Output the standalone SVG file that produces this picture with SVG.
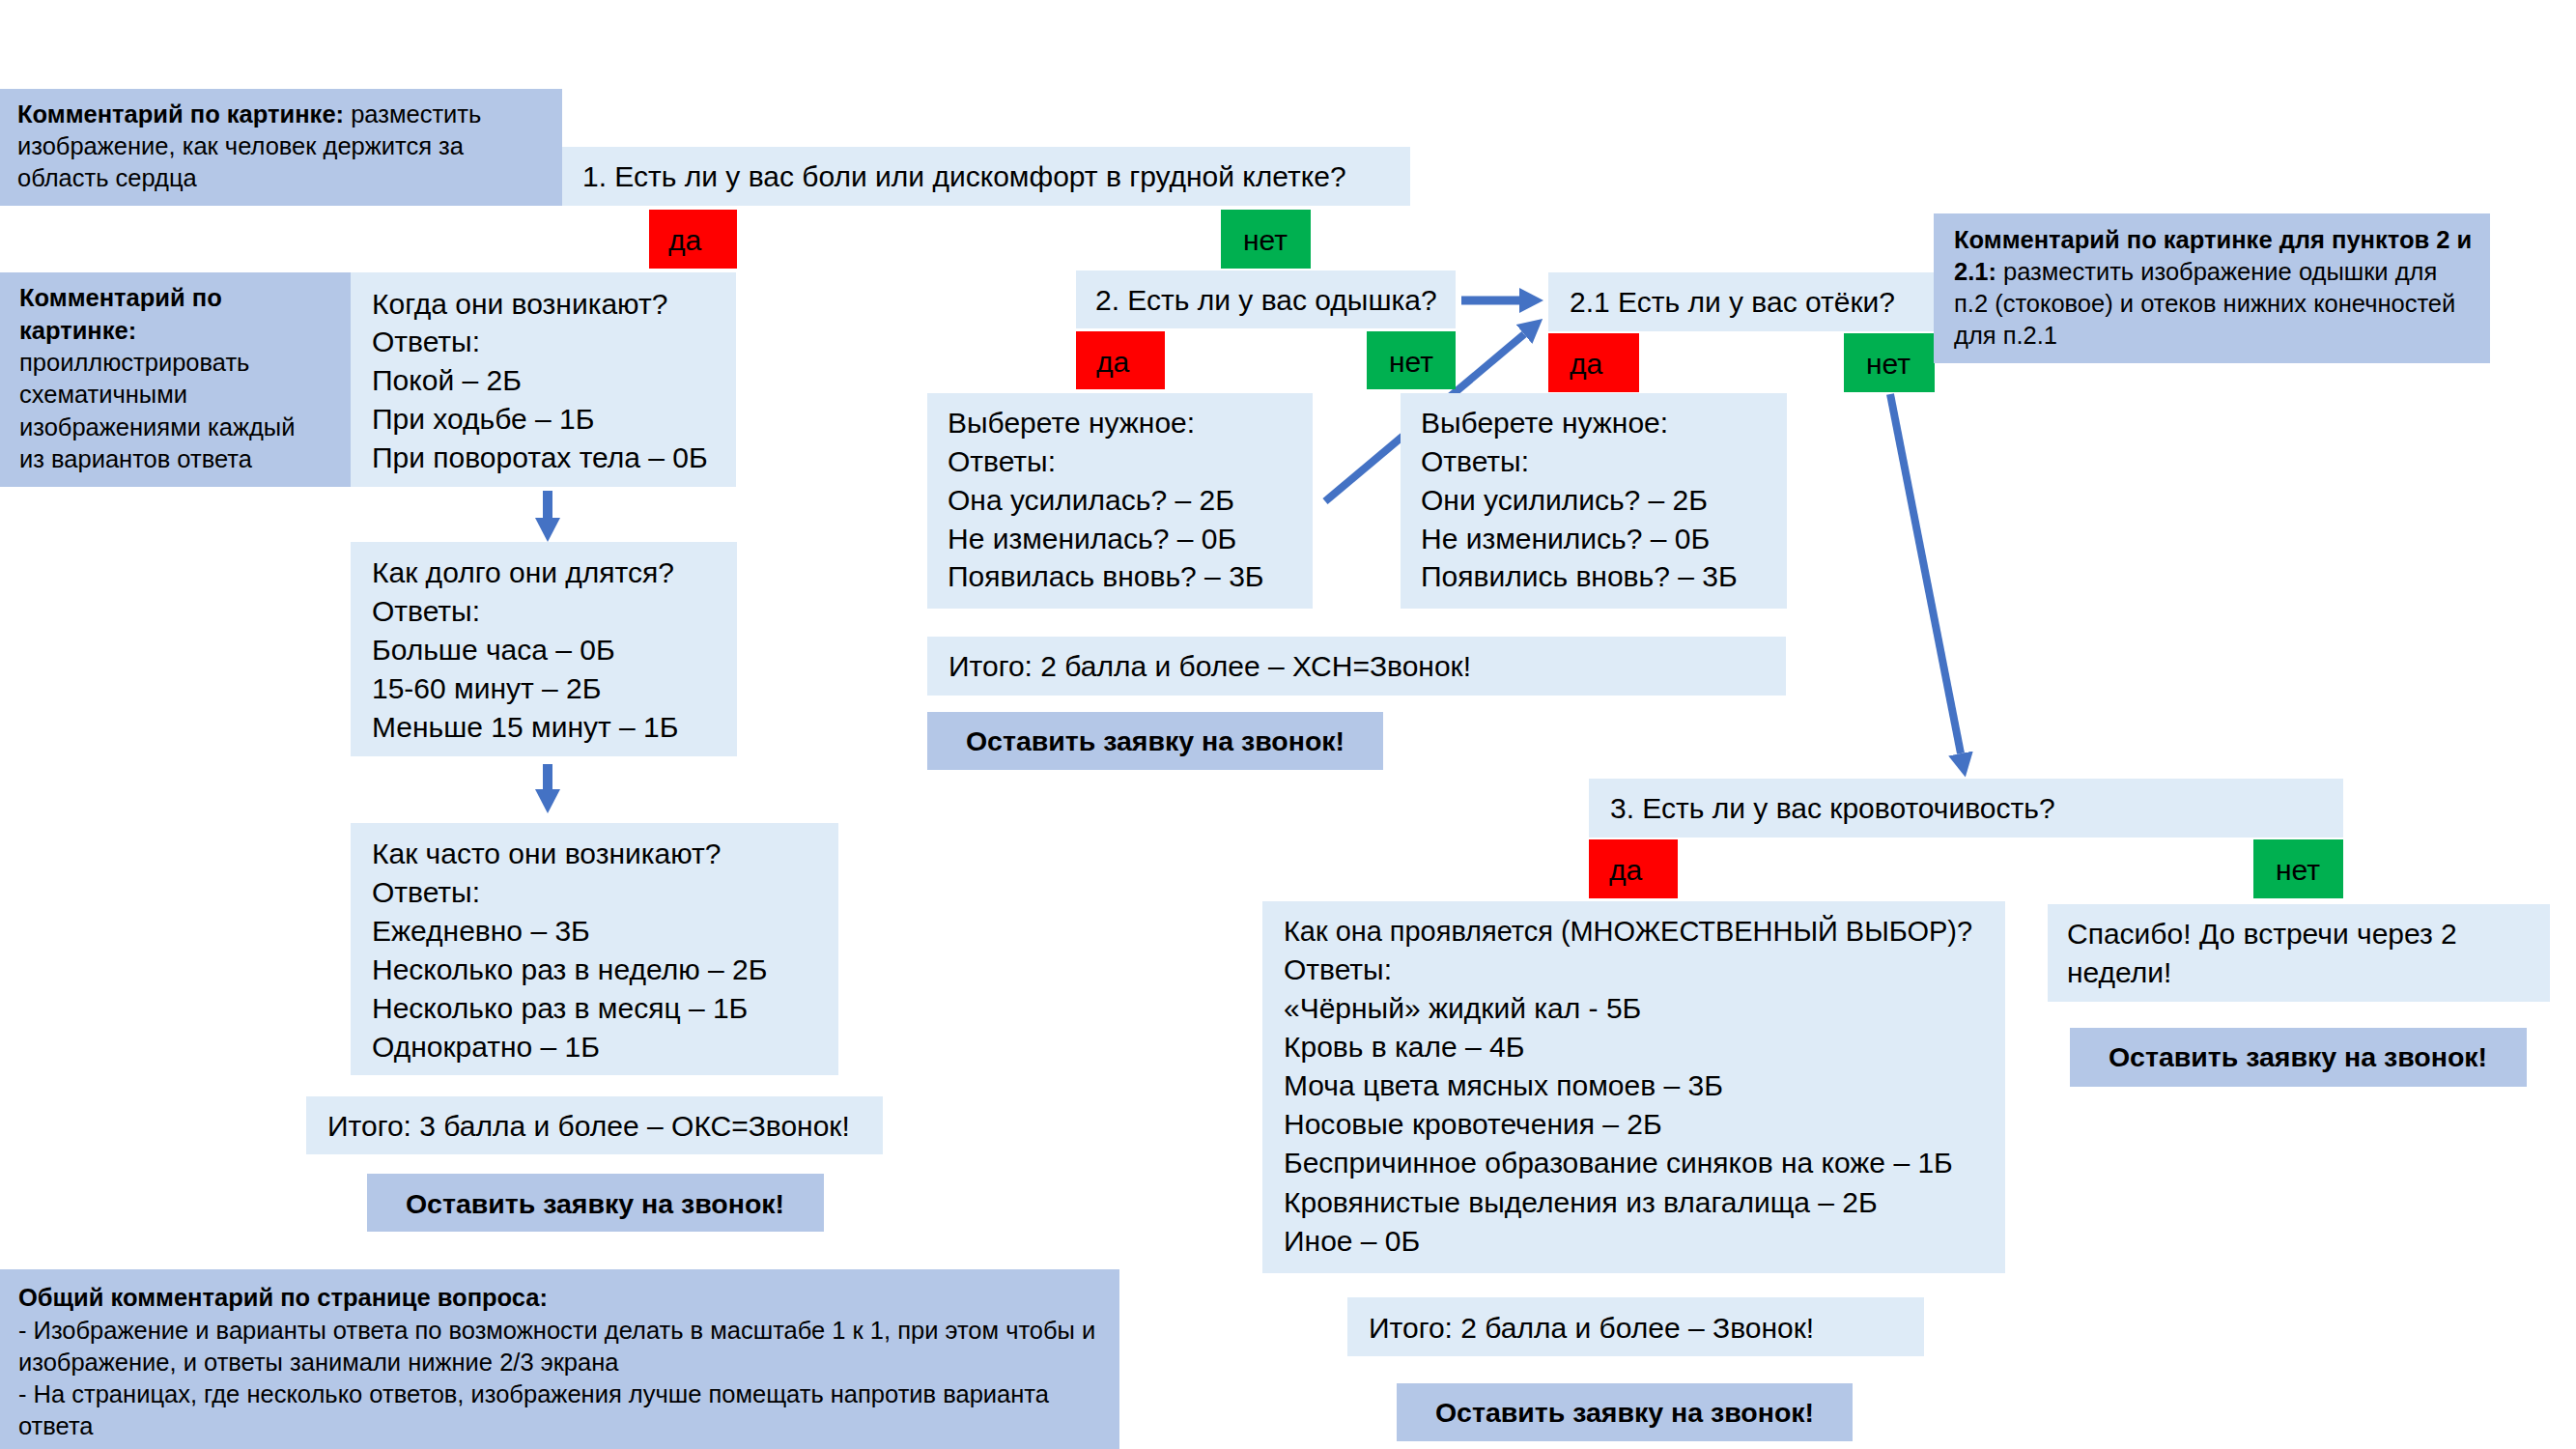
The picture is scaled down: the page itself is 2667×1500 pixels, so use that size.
<svg xmlns="http://www.w3.org/2000/svg" width="2667" height="1500" viewBox="0 0 2667 1500">
<style>
text{font-family:"Liberation Sans",Arial,sans-serif;fill:#000}
.lb{fill:#DEEBF7}
.cm{fill:#B4C7E7}
.red{fill:#FF0000}
.grn{fill:#00B050}
.t{font-size:30px}
.c{font-size:25.5px}
.b{font-weight:bold}
.btn{font-size:28.5px;font-weight:bold;text-anchor:middle}
.ar{stroke:#4472C4;fill:none}
</style>
<defs>
<marker id="ah" markerUnits="userSpaceOnUse" markerWidth="26" markerHeight="26" refX="0" refY="13" orient="auto"><path d="M0,0 L25,13 L0,26 Z" fill="#4472C4"/></marker>
</defs>
<rect width="2667" height="1500" fill="#FFFFFF"/>
<g id="connectors">
<line class="ar" x1="567" y1="508" x2="567" y2="536" stroke-width="10" marker-end="url(#ah)"/>
<line class="ar" x1="567" y1="791" x2="567" y2="817" stroke-width="10" marker-end="url(#ah)"/>
<line class="ar" x1="1513" y1="311" x2="1573" y2="311" stroke-width="9" marker-end="url(#ah)"/>
<line class="ar" x1="1372" y1="519" x2="1578" y2="346" stroke-width="8" marker-end="url(#ah)"/>
<line class="ar" x1="1957" y1="408" x2="2030" y2="780" stroke-width="8" marker-end="url(#ah)"/>
</g>
<g id="comment1">
<rect class="cm" x="0" y="92" width="582" height="121"/>
<text class="c" x="18" y="127"><tspan class="b">Комментарий по картинке:</tspan> разместить</text>
<text class="c" x="18" y="160">изображение, как человек держится за</text>
<text class="c" x="18" y="193">область сердца</text>
</g>
<g id="q1">
<rect class="lb" x="582" y="152" width="878" height="61"/>
<text class="t" x="603" y="193">1. Есть ли у вас боли или дискомфорт в грудной клетке?</text>
</g>
<g id="q1-yes">
<rect class="red" x="672" y="217" width="91" height="61"/>
<text class="t" x="692" y="259">да</text>
</g>
<g id="q1-no">
<rect class="grn" x="1264" y="217" width="93" height="61"/>
<text class="t" x="1310" y="259" text-anchor="middle">нет</text>
</g>
<g id="comment2">
<rect class="cm" x="0" y="282" width="363" height="222"/>
<text class="c b" x="20" y="317">Комментарий по</text>
<text class="c b" x="20" y="351">картинке:</text>
<text class="c" x="20" y="384">проиллюстрировать</text>
<text class="c" x="20" y="417">схематичными</text>
<text class="c" x="20" y="451">изображениями каждый</text>
<text class="c" x="20" y="484">из вариантов ответа</text>
</g>
<g id="when">
<rect class="lb" x="363" y="282" width="399" height="222"/>
<text class="t" x="385" y="325">Когда они возникают?</text>
<text class="t" x="385" y="364">Ответы:</text>
<text class="t" x="385" y="404">Покой – 2Б</text>
<text class="t" x="385" y="444">При ходьбе – 1Б</text>
<text class="t" x="385" y="484">При поворотах тела – 0Б</text>
</g>
<g id="duration">
<rect class="lb" x="363" y="561" width="400" height="222"/>
<text class="t" x="385" y="603">Как долго они длятся?</text>
<text class="t" x="385" y="643">Ответы:</text>
<text class="t" x="385" y="683">Больше часа – 0Б</text>
<text class="t" x="385" y="723">15-60 минут – 2Б</text>
<text class="t" x="385" y="763">Меньше 15 минут – 1Б</text>
</g>
<g id="frequency">
<rect class="lb" x="363" y="852" width="505" height="261"/>
<text class="t" x="385" y="894">Как часто они возникают?</text>
<text class="t" x="385" y="934">Ответы:</text>
<text class="t" x="385" y="974">Ежедневно – 3Б</text>
<text class="t" x="385" y="1014">Несколько раз в неделю – 2Б</text>
<text class="t" x="385" y="1054">Несколько раз в месяц – 1Б</text>
<text class="t" x="385" y="1094">Однократно – 1Б</text>
</g>
<g id="total1">
<rect class="lb" x="317" y="1135" width="597" height="60"/>
<text class="t" x="339" y="1176">Итого: 3 балла и более – ОКС=Звонок!</text>
</g>
<g id="button1">
<rect class="cm" x="380" y="1215" width="473" height="60"/>
<text class="btn" x="616" y="1256">Оставить заявку на звонок!</text>
</g>
<g id="comment-general">
<rect class="cm" x="0" y="1314" width="1159" height="186"/>
<text class="c b" x="19" y="1352">Общий комментарий по странице вопроса:</text>
<text class="c" x="19" y="1386">- Изображение и варианты ответа по возможности делать в масштабе 1 к 1, при этом чтобы и</text>
<text class="c" x="19" y="1419">изображение, и ответы занимали нижние 2/3 экрана</text>
<text class="c" x="19" y="1452">- На страницах, где несколько ответов, изображения лучше помещать напротив варианта</text>
<text class="c" x="19" y="1485">ответа</text>
</g>
<g id="q2">
<rect class="lb" x="1114" y="280" width="393" height="60"/>
<text class="t" x="1134" y="321">2. Есть ли у вас одышка?</text>
</g>
<g id="q2-yes">
<rect class="red" x="1114" y="343" width="92" height="60"/>
<text class="t" x="1135" y="385">да</text>
</g>
<g id="q2-no">
<rect class="grn" x="1415" y="343" width="92" height="60"/>
<text class="t" x="1461" y="385" text-anchor="middle">нет</text>
</g>
<g id="q2-answers">
<rect class="lb" x="960" y="407" width="399" height="223"/>
<text class="t" x="981" y="448">Выберете нужное:</text>
<text class="t" x="981" y="488">Ответы:</text>
<text class="t" x="981" y="528">Она усилилась? – 2Б</text>
<text class="t" x="981" y="568">Не изменилась? – 0Б</text>
<text class="t" x="981" y="607">Появилась вновь? – 3Б</text>
</g>
<g id="q21">
<rect class="lb" x="1603" y="282" width="399" height="61"/>
<text class="t" x="1625" y="323">2.1 Есть ли у вас отёки?</text>
</g>
<g id="q21-yes">
<rect class="red" x="1603" y="345" width="94" height="61"/>
<text class="t" x="1625" y="387">да</text>
</g>
<g id="q21-no">
<rect class="grn" x="1909" y="345" width="94" height="61"/>
<text class="t" x="1955" y="387" text-anchor="middle">нет</text>
</g>
<g id="q21-answers">
<rect class="lb" x="1450" y="407" width="400" height="223"/>
<text class="t" x="1471" y="448">Выберете нужное:</text>
<text class="t" x="1471" y="488">Ответы:</text>
<text class="t" x="1471" y="528">Они усилились? – 2Б</text>
<text class="t" x="1471" y="568">Не изменились? – 0Б</text>
<text class="t" x="1471" y="607">Появились вновь? – 3Б</text>
</g>
<g id="comment3">
<rect class="cm" x="2002" y="221" width="576" height="155"/>
<text class="c b" x="2023" y="257">Комментарий по картинке для пунктов 2 и</text>
<text class="c" x="2023" y="290"><tspan class="b">2.1:</tspan> разместить изображение одышки для</text>
<text class="c" x="2023" y="323">п.2 (стоковое) и отеков нижних конечностей</text>
<text class="c" x="2023" y="356">для п.2.1</text>
</g>
<g id="total2">
<rect class="lb" x="960" y="659" width="889" height="61"/>
<text class="t" x="982" y="700">Итого: 2 балла и более – ХСН=Звонок!</text>
</g>
<g id="button2">
<rect class="cm" x="960" y="737" width="472" height="60"/>
<text class="btn" x="1196" y="777">Оставить заявку на звонок!</text>
</g>
<g id="q3">
<rect class="lb" x="1645" y="806" width="781" height="61"/>
<text class="t" x="1667" y="847">3. Есть ли у вас кровоточивость?</text>
</g>
<g id="q3-yes">
<rect class="red" x="1645" y="869" width="92" height="61"/>
<text class="t" x="1666" y="911">да</text>
</g>
<g id="q3-no">
<rect class="grn" x="2333" y="869" width="93" height="61"/>
<text class="t" x="2379" y="911" text-anchor="middle">нет</text>
</g>
<g id="q3-answers">
<rect class="lb" x="1307" y="933" width="769" height="385"/>
<text class="t" x="1329" y="974" textLength="713" lengthAdjust="spacingAndGlyphs">Как она проявляется (МНОЖЕСТВЕННЫЙ ВЫБОР)?</text>
<text class="t" x="1329" y="1014">Ответы:</text>
<text class="t" x="1329" y="1054">«Чёрный» жидкий кал - 5Б</text>
<text class="t" x="1329" y="1094">Кровь в кале – 4Б</text>
<text class="t" x="1329" y="1134">Моча цвета мясных помоев – 3Б</text>
<text class="t" x="1329" y="1174">Носовые кровотечения – 2Б</text>
<text class="t" x="1329" y="1214">Беспричинное образование синяков на коже – 1Б</text>
<text class="t" x="1329" y="1255">Кровянистые выделения из влагалища – 2Б</text>
<text class="t" x="1329" y="1295">Иное – 0Б</text>
</g>
<g id="thanks">
<rect class="lb" x="2120" y="936" width="520" height="101"/>
<text class="t" x="2140" y="977">Спасибо! До встречи через 2</text>
<text class="t" x="2140" y="1017">недели!</text>
</g>
<g id="button3">
<rect class="cm" x="2143" y="1064" width="473" height="61"/>
<text class="btn" x="2379" y="1104">Оставить заявку на звонок!</text>
</g>
<g id="total3">
<rect class="lb" x="1395" y="1343" width="597" height="61"/>
<text class="t" x="1417" y="1385">Итого: 2 балла и более – Звонок!</text>
</g>
<g id="button4">
<rect class="cm" x="1446" y="1432" width="472" height="60"/>
<text class="btn" x="1682" y="1472">Оставить заявку на звонок!</text>
</g>
</svg>
